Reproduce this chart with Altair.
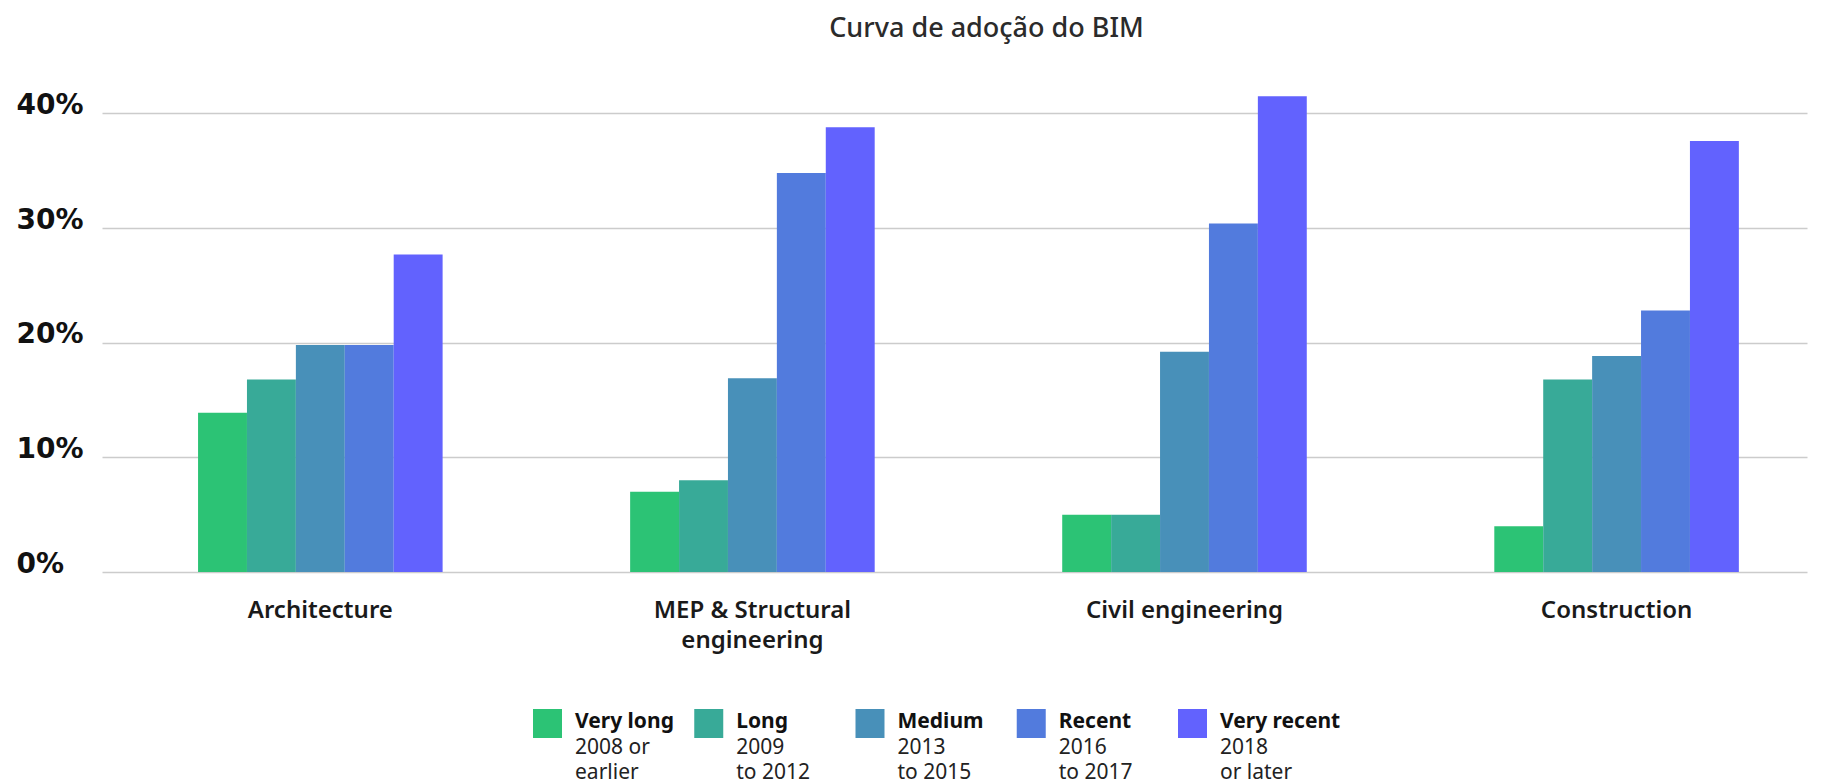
import altair as alt
import pandas as pd

categories = ["Architecture", "MEP & Structural\nengineering", "Civil engineering", "Construction"]
periods = ["Very long", "Long", "Medium", "Recent", "Very recent"]
period_years = ["2008 or\nearlier", "2009\nto 2012", "2013\nto 2015", "2016\nto 2017", "2018\nor later"]
colors = ["#2cc375", "#38aa98", "#4890b9", "#527bdd", "#6262fe"]

very_long = [13.9, 7.0, 5.0, 4.0]
long_ = [16.8, 8.0, 5.0, 16.8]
medium = [19.8, 16.9, 19.2, 18.85]
recent = [19.8, 34.8, 30.4, 22.8]
very_recent = [27.7, 38.8, 41.5, 37.6]

series = [very_long, long_, medium, recent, very_recent]
rows = []
for p, vals in zip(periods, series):
    for c, v in zip(categories, vals):
        rows.append({"category": c, "period": p, "value": v})
df = pd.DataFrame(rows)

leg_df = pd.DataFrame({"period": periods, "years": period_years, "order": list(range(len(periods)))})

color_scale = alt.Scale(domain=periods, range=colors)

main = alt.Chart(df).mark_bar().encode(
    x=alt.X("category:N", sort=categories,
            scale=alt.Scale(paddingInner=0.434, paddingOuter=0.19, align=0.585),
            axis=alt.Axis(title=None, labelAngle=0, labelExpr="split(datum.label, '\\n')",
                          ticks=False, domain=False, labelPadding=26, labelFont="Noto Sans",
                          labelFontSize=24, labelFontWeight=600, labelColor="#1a1a1a",
                          labelLineHeight=30, labelBaseline="top", labelLimit=0)),
    xOffset=alt.XOffset("period:N", sort=periods, scale=alt.Scale(paddingInner=0, paddingOuter=0)),
    y=alt.Y("value:Q", scale=alt.Scale(domain=[0, 43], nice=False),
            axis=alt.Axis(title=None, values=[0, 10, 20, 30, 40], labelExpr="datum.value + '%'",
                          ticks=False, tickSize=0, domain=False, labelAlign="left", labelPadding=86,
                          labelBaseline="alphabetic", labelFont="DejaVu Sans", labelFontSize=28,
                          labelFontWeight="bold", labelColor="#111111",
                          grid=True, gridColor="#cccccc", gridWidth=1.3)),
    color=alt.Color("period:N", sort=periods, scale=color_scale, legend=None),
).properties(
    width=1705, height=493,
    title=alt.TitleParams("Curva de adoção do BIM", font="Noto Sans", fontSize=27, fontWeight=500,
                          color="#2b2b2b", anchor="middle", frame="group", dx=32, offset=36,
                          limit=0),
)

base = alt.Chart(leg_df).encode(
    x=alt.X("order:Q", scale=alt.Scale(domain=[-2.673, 7.901], nice=False, zero=False), axis=None)
)
sq = base.mark_square(size=841, xOffset=14.5, opacity=1, strokeWidth=0).encode(
    color=alt.Color("period:N", sort=periods, scale=color_scale, legend=None)
)
name_t = base.mark_text(align="left", baseline="alphabetic", dx=42, dy=4.5, font="Noto Sans",
                        fontSize=21, fontWeight=700, color="#111111").encode(text="period:N")
yr_t = base.mark_text(align="left", baseline="alphabetic", dx=42, dy=30, lineBreak="\n",
                      lineHeight=25, font="Noto Sans", fontSize=21, color="#222222").encode(text="years:N")
legend = alt.layer(sq, name_t, yr_t).properties(width=1705, height=97)

chart = alt.vconcat(main, legend, spacing=23).configure_view(stroke=None).properties(
    padding={"left": 8, "top": 7, "right": 5, "bottom": 0}
)

chart.save("out.html", embed_options={"renderer": "svg", "actions": False})
